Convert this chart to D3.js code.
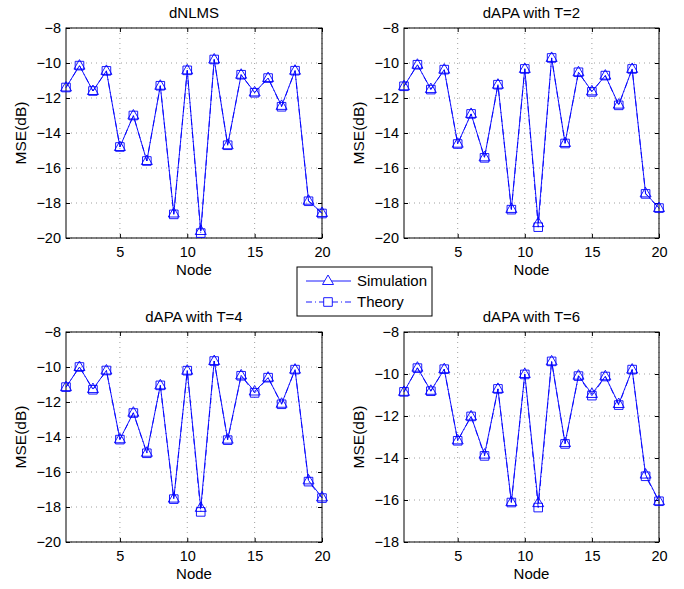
<!DOCTYPE html>
<html><head><meta charset="utf-8">
<script src="https://cdn.jsdelivr.net/npm/d3@7"></script>
<style>body{margin:0;background:#fff}svg{display:block}text{font-family:"Liberation Sans",Arial,sans-serif;fill:#000}</style>
</head><body>
<script>
const nodes = d3.range(1, 21);
const xTicks = [5, 10, 15, 20];
const yTicksA = [-8, -10, -12, -14, -16, -18, -20];
const yTicksB = [-8, -10, -12, -14, -16, -18];
const titles = ["dNLMS", "dAPA with T=2", "dAPA with T=4", "dAPA with T=6"];
const legendLabels = ["Simulation", "Theory"];

const simNLMS = [-11.4,-10.15,-11.6,-10.45,-14.8,-13.0,-15.6,-11.3,-18.6,-10.42,-19.6,-9.8,-14.7,-10.67,-11.68,-10.86,-12.45,-10.44,-17.87,-18.57];
const thNLMS  = [-11.4,-10.15,-11.6,-10.45,-14.8,-13.0,-15.6,-11.3,-18.65,-10.42,-19.72,-9.8,-14.7,-10.67,-11.7,-10.86,-12.5,-10.44,-17.9,-18.6];
const simT2 = [-11.33,-10.1,-11.49,-10.38,-14.61,-12.91,-15.39,-11.24,-18.34,-10.34,-19.15,-9.71,-14.57,-10.53,-11.62,-10.72,-12.38,-10.34,-17.45,-18.29];
const thT2  = [-11.33,-10.1,-11.52,-10.38,-14.63,-12.91,-15.42,-11.24,-18.38,-10.34,-19.38,-9.71,-14.6,-10.53,-11.65,-10.72,-12.42,-10.34,-17.48,-18.29];
const simT4 = [-11.15,-10.0,-11.26,-10.2,-14.13,-12.61,-14.9,-11.05,-17.52,-10.21,-18.05,-9.66,-14.15,-10.48,-11.4,-10.61,-12.1,-10.15,-16.48,-17.45];
const thT4  = [-11.15,-10.0,-11.3,-10.2,-14.15,-12.63,-14.93,-11.05,-17.55,-10.21,-18.28,-9.66,-14.18,-10.5,-11.48,-10.61,-12.13,-10.15,-16.55,-17.49];
const simT6 = [-10.85,-9.7,-10.8,-9.77,-13.16,-12.02,-13.84,-10.71,-16.1,-10.0,-16.15,-9.4,-13.29,-10.08,-10.95,-10.11,-11.43,-9.79,-14.79,-16.06];
const thT6  = [-10.85,-9.72,-10.82,-9.77,-13.18,-12.02,-13.9,-10.71,-16.12,-10.02,-16.36,-9.4,-13.33,-10.1,-11.03,-10.12,-11.48,-9.79,-14.87,-16.06];

const W = 684, H = 589;
const svg = d3.select("body").append("svg").attr("width", W).attr("height", H);
const blue = "#0000ff";

const panels = [
  {x0: 66, x1: 322, y0: 28, y1: 238, yDom: [-20, -8], yTicks: yTicksA, sim: simNLMS, th: thNLMS, title: titles[0]},
  {x0: 404, x1: 659, y0: 28, y1: 238, yDom: [-20, -8], yTicks: yTicksA, sim: simT2, th: thT2, title: titles[1]},
  {x0: 66, x1: 322, y0: 332, y1: 542, yDom: [-20, -8], yTicks: yTicksA, sim: simT4, th: thT4, title: titles[2]},
  {x0: 404, x1: 659, y0: 332, y1: 542, yDom: [-18, -8], yTicks: yTicksB, sim: simT6, th: thT6, title: titles[3]}
];

const triPath = "M0,-6L5.5,3.5L-5.5,3.5Z";
const sqPath = "M-4.3,-4.3H4.3V4.3H-4.3Z";

panels.forEach(p => {
  const x = d3.scaleLinear().domain([1, 20]).range([p.x0, p.x1]);
  const y = d3.scaleLinear().domain(p.yDom).range([p.y1, p.y0]);
  const g = svg.append("g");
  g.selectAll(".gx").data(xTicks).enter().append("line")
    .attr("x1", d => x(d)).attr("x2", d => x(d)).attr("y1", p.y0).attr("y2", p.y1)
    .attr("stroke", "#888").attr("stroke-width", 0.8).attr("stroke-dasharray", "1,4");
  g.selectAll(".gy").data(p.yTicks).enter().append("line")
    .attr("x1", p.x0).attr("x2", p.x1).attr("y1", d => y(d)).attr("y2", d => y(d))
    .attr("stroke", "#888").attr("stroke-width", 0.8).attr("stroke-dasharray", "1,4");
  const ax = g.append("g").attr("transform", `translate(0,${p.y1})`)
    .call(d3.axisBottom(x).tickValues(xTicks).tickSize(-4).tickPadding(9).tickFormat(d3.format("d")));
  const ay = g.append("g").attr("transform", `translate(${p.x0},0)`)
    .call(d3.axisLeft(y).tickValues(p.yTicks).tickSize(-4).tickPadding(5).tickFormat(d3.format("d")));
  const axT = g.append("g").attr("transform", `translate(0,${p.y0})`)
    .call(d3.axisTop(x).tickValues(xTicks).tickSize(-4).tickFormat(""));
  const ayR = g.append("g").attr("transform", `translate(${p.x1},0)`)
    .call(d3.axisRight(y).tickValues(p.yTicks).tickSize(-4).tickFormat(""));
  [ax, ay, axT, ayR].forEach(a => {
    a.selectAll("text").attr("font-size", 14.5).style("font-family", "Liberation Sans, Arial, sans-serif");
    a.select(".domain").remove();
    a.selectAll("line").attr("stroke", "#000");
  });
  g.append("rect").attr("x", p.x0).attr("y", p.y0).attr("width", p.x1 - p.x0).attr("height", p.y1 - p.y0)
    .attr("fill", "none").attr("stroke", "#000").attr("stroke-width", 1);
  g.append("text").attr("x", (p.x0 + p.x1) / 2).attr("y", p.y0 - 10).attr("text-anchor", "middle")
    .attr("font-size", 15).text(p.title);
  g.append("text").attr("x", (p.x0 + p.x1) / 2).attr("y", p.y1 + 37).attr("text-anchor", "middle")
    .attr("font-size", 15).text("Node");
  g.append("text").attr("transform", `translate(${p.x0 - 40},${(p.y0 + p.y1) / 2}) rotate(-90)`)
    .attr("text-anchor", "middle").attr("font-size", 15.5).text("MSE(dB)");
  const line = d3.line().x((d, i) => x(nodes[i])).y(d => y(d));
  g.append("path").datum(p.th).attr("d", line).attr("fill", "none").attr("stroke", blue)
    .attr("stroke-width", 0.9).attr("stroke-dasharray", "6,3,1,3");
  g.append("path").datum(p.sim).attr("d", line).attr("fill", "none").attr("stroke", blue).attr("stroke-width", 0.9);
  g.selectAll(".sq").data(p.th).enter().append("path").attr("d", sqPath)
    .attr("transform", (d, i) => `translate(${x(nodes[i])},${y(d)})`)
    .attr("fill", "none").attr("stroke", blue).attr("stroke-width", 0.9);
  g.selectAll(".tr").data(p.sim).enter().append("path").attr("d", triPath)
    .attr("transform", (d, i) => `translate(${x(nodes[i])},${y(d)})`)
    .attr("fill", "none").attr("stroke", blue).attr("stroke-width", 0.9);
});

const lg = svg.append("g");
lg.append("rect").attr("x", 297).attr("y", 267).attr("width", 135).attr("height", 49)
  .attr("fill", "#fff").attr("stroke", "#000").attr("stroke-width", 1);
const rows = [{y: 281, dash: null, m: triPath}, {y: 302, dash: "6,3,1,3", m: sqPath}];
rows.forEach((r, i) => {
  lg.append("line").attr("x1", 306).attr("x2", 351).attr("y1", r.y).attr("y2", r.y)
    .attr("stroke", blue).attr("stroke-width", 0.9).attr("stroke-dasharray", r.dash);
  lg.append("path").attr("d", r.m).attr("transform", `translate(328,${r.y})`)
    .attr("fill", "#fff").attr("stroke", blue).attr("stroke-width", 0.9);
  lg.append("text").attr("x", 357).attr("y", r.y + 5).attr("font-size", 15).text(legendLabels[i]);
});
</script>
</body></html>
